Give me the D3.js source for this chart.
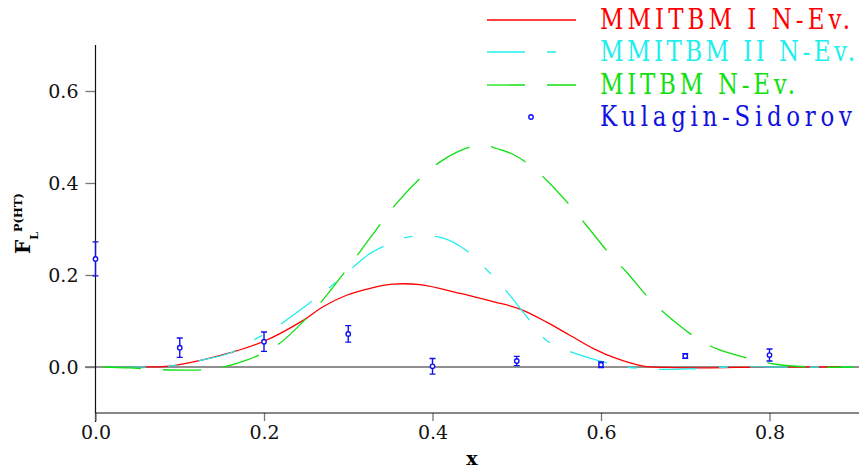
<!DOCTYPE html>
<html>
<head>
<meta charset="utf-8">
<script src="https://cdn.jsdelivr.net/npm/d3@7"></script>
<style>
  body { margin: 0; background: #fff; }
  svg { display: block; }
</style>
</head>
<body>
<script>
const SVG_WIDTH = 859;
const SVG_HEIGHT = 469;

// MMITBM I N-Ev. (solid red)
const redX = [0.015, 0.05, 0.088, 0.126, 0.16, 0.2, 0.247, 0.27, 0.298, 0.326, 0.353, 0.385, 0.433, 0.472, 0.504, 0.536, 0.563, 0.591, 0.619, 0.65, 0.678, 0.72, 0.76, 0.8, 0.9];
const redY = [0, 0, 0.002, 0.015, 0.031, 0.056, 0.102, 0.131, 0.156, 0.171, 0.180, 0.179, 0.160, 0.142, 0.126, 0.097, 0.069, 0.040, 0.018, 0.002, -0.001, -0.002, -0.001, 0, 0];

// MMITBM II N-Ev. (cyan dashed)
const cyanX = [0.015, 0.05, 0.088, 0.126, 0.16, 0.187, 0.215, 0.251, 0.274, 0.302, 0.326, 0.345, 0.369, 0.397, 0.413, 0.439, 0.464, 0.484, 0.512, 0.534, 0.557, 0.599, 0.63, 0.67, 0.706, 0.75, 0.8, 0.9];
const cyanY = [0, 0, 0.002, 0.015, 0.031, 0.058, 0.087, 0.135, 0.167, 0.211, 0.247, 0.265, 0.282, 0.285, 0.280, 0.255, 0.212, 0.173, 0.109, 0.060, 0.038, 0.013, 0, -0.005, -0.004, 0, 0, 0];

// MITBM N-Ev. (green dashed)
const greenX = [0.009, 0.04, 0.08, 0.127, 0.152, 0.175, 0.195, 0.219, 0.251, 0.27, 0.296, 0.314, 0.340, 0.357, 0.387, 0.409, 0.429, 0.448, 0.462, 0.476, 0.496, 0.516, 0.536, 0.557, 0.583, 0.611, 0.631, 0.658, 0.678, 0.714, 0.737, 0.777, 0.807, 0.85, 0.9];
const greenY = [0, -0.002, -0.006, -0.006, 0, 0.012, 0.027, 0.052, 0.107, 0.146, 0.207, 0.251, 0.315, 0.355, 0.413, 0.446, 0.467, 0.480, 0.482, 0.475, 0.462, 0.438, 0.405, 0.364, 0.307, 0.244, 0.205, 0.147, 0.113, 0.062, 0.040, 0.018, 0.006, 0, 0];

// Kulagin-Sidorov points with errors
const pointX = [0.0, 0.1, 0.2, 0.3, 0.4, 0.5, 0.6, 0.7, 0.8];
const pointY = [0.235, 0.042, 0.055, 0.072, 0.0015, 0.013, 0.005, 0.024, 0.026];
const pointErr = [0.037, 0.021, 0.021, 0.018, 0.017, 0.01, 0.006, 0.005, 0.013];

const xTicks = [0.0, 0.2, 0.4, 0.6, 0.8];
const yTicks = [0.0, 0.2, 0.4, 0.6];

const series = [
    { name: "MMITBM I N-Ev.", xs: redX, ys: redY, color: "#ff0000", dash: null },
    { name: "MMITBM II N-Ev.", xs: cyanX, ys: cyanY, color: "#22eeee", dash: "38,22,9,22" },
    { name: "MITBM N-Ev.", xs: greenX, ys: greenY, color: "#11e011", dash: "38,22" },
];

const x = d3.scaleLinear().domain([0, 0.9]).range([95.5, 853.75]);
const y = d3.scaleLinear().domain([-0.1, 0.7]).range([413, 45]);

const svg = d3
    .select("body")
    .append("svg")
    .attr("width", SVG_WIDTH)
    .attr("height", SVG_HEIGHT)
    .style("font-family", "'DejaVu Serif', serif");

// zero line
svg.append("line")
    .attr("x1", 85).attr("x2", SVG_WIDTH)
    .attr("y1", y(0)).attr("y2", y(0))
    .attr("stroke", "#222").attr("stroke-width", 1.2);

// y axis
const yAxis = svg.append("g")
    .attr("transform", `translate(${x(0)},0)`)
    .call(d3.axisLeft(y).tickValues(yTicks).tickFormat(d3.format(".1f")).tickSize(10).tickPadding(7));
yAxis.select(".domain").remove();
yAxis.selectAll(".tick line").attr("stroke", "#777").attr("stroke-width", 1.3);
yAxis.selectAll(".tick text").attr("font-size", 19).attr("font-family", "'DejaVu Serif', serif").attr("fill", "#111");
svg.append("line")
    .attr("x1", x(0)).attr("x2", x(0))
    .attr("y1", 45).attr("y2", 422)
    .attr("stroke", "#111").attr("stroke-width", 1.2);

// x axis
const xAxis = svg.append("g")
    .attr("transform", `translate(0,${y(-0.1)})`)
    .call(d3.axisBottom(x).tickValues(xTicks).tickFormat(d3.format(".1f")).tickSize(8).tickPadding(5));
xAxis.select(".domain").remove();
xAxis.selectAll(".tick line").attr("stroke", "#777").attr("stroke-width", 1.3);
xAxis.selectAll(".tick text").attr("font-size", 19).attr("font-family", "'DejaVu Serif', serif").attr("fill", "#111");
svg.append("line")
    .attr("x1", x(0)).attr("x2", SVG_WIDTH)
    .attr("y1", y(-0.1)).attr("y2", y(-0.1))
    .attr("stroke", "#111").attr("stroke-width", 1.2);

// axis titles
svg.append("text")
    .attr("x", 472).attr("y", 465)
    .attr("text-anchor", "middle")
    .attr("font-size", 19).attr("font-weight", "bold")
    .text("x");

// rotated y title: F, subscript L, superscript P(HT)
const yTitle = svg.append("text")
    .attr("x", 30).attr("y", 254)
    .attr("transform", "rotate(-90 30 254)")
    .style("transform-box", "view-box")
    .attr("font-weight", "bold")
    .attr("font-size", 20);
yTitle.append("tspan").text("F");
yTitle.append("tspan").attr("font-size", 11).attr("dy", 8).text("L");
yTitle.append("tspan").attr("font-size", 11.5).attr("dy", -16).text("P(HT)");

// curves
const line = d3.line()
    .x(d => x(d[0]))
    .y(d => y(d[1]))
    .curve(d3.curveCatmullRom);

series.forEach(s => {
    svg.append("path")
        .datum(s.xs.map((v, i) => [v, s.ys[i]]))
        .attr("d", line)
        .attr("fill", "none")
        .attr("stroke", s.color)
        .attr("stroke-width", 1.3)
        .attr("stroke-dasharray", s.dash);
});

// error bars + markers
const pts = pointX.map((v, i) => ({ x: v, y: pointY[i], e: pointErr[i] }));
const pg = svg.append("g").attr("stroke", "#1010f0").attr("stroke-width", 1.4);
pg.selectAll(".eb")
    .data(pts)
    .enter()
    .append("path")
    .attr("class", "eb")
    .attr("fill", "none")
    .attr("d", d => {
        const cx = x(d.x), t = y(d.y + d.e), b = y(d.y - d.e);
        return `M${cx - 3},${t}H${cx + 3}M${cx},${t}V${b}M${cx - 3},${b}H${cx + 3}`;
    });
pg.selectAll(".pt")
    .data(pts)
    .enter()
    .append("circle")
    .attr("class", "pt")
    .attr("cx", d => x(d.x))
    .attr("cy", d => y(d.y))
    .attr("r", 2.2)
    .attr("fill", "#fff");

// legend
const legendY = [20, 52, 85, 117];
const legendX1 = 487, legendX2 = 576, textX = 600;
const legendWidths = [250, 255, 195, 252];
const SQUEEZE = 0.85;

series.forEach((s, i) => {
    svg.append("line")
        .attr("x1", legendX1).attr("x2", legendX2)
        .attr("y1", legendY[i]).attr("y2", legendY[i])
        .attr("stroke", s.color)
        .attr("stroke-width", 1.3)
        .attr("stroke-dasharray", s.dash);
});
svg.append("circle")
    .attr("cx", 531).attr("cy", legendY[3]).attr("r", 2.2)
    .attr("fill", "#fff").attr("stroke", "#1010f0").attr("stroke-width", 1.4);

const legendNames = series.map(s => s.name).concat(["Kulagin-Sidorov"]);
const legendColors = series.map(s => s.color).concat(["#1010e0"]);
legendNames.forEach((n, i) => {
    svg.append("g")
        .attr("transform", `translate(${textX},${legendY[i] + 9}) scale(${SQUEEZE},1)`)
        .append("text")
        .attr("font-size", 27)
        .attr("fill", legendColors[i])
        .attr("textLength", legendWidths[i] / SQUEEZE)
        .attr("lengthAdjust", "spacing")
        .text(n);
});
</script>
</body>
</html>
